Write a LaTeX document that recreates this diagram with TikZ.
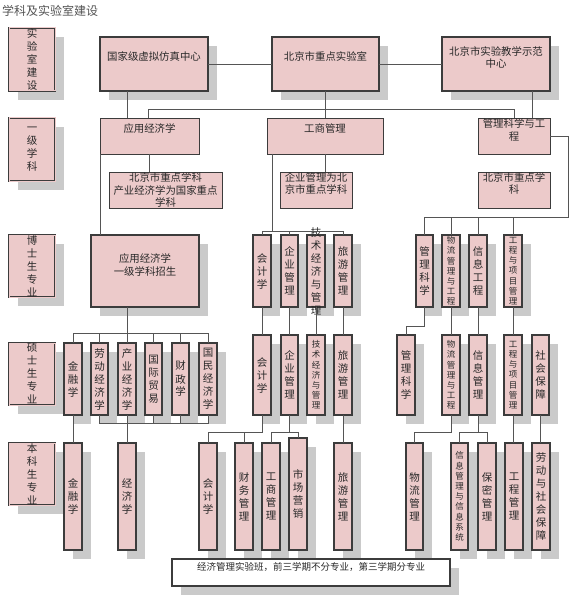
\documentclass[tikz,border=0pt]{standalone}
\usepackage{fontspec}
\setmainfont{Noto Sans CJK SC}
\usetikzlibrary{shadows,calc}
\definecolor{pinkfill}{RGB}{236,202,202}
\definecolor{shadowgray}{RGB}{202,202,202}
\definecolor{borderc}{RGB}{60,60,60}
\definecolor{linec}{RGB}{85,85,85}
\definecolor{textc}{RGB}{40,40,40}
\tikzset{
  sh/.style={drop shadow={shadow xshift=9pt, shadow yshift=-9pt, fill=shadowgray, opacity=1}},
  bigbox/.style={rectangle, fill=pinkfill, draw=borderc, line width=1.5pt, inner sep=0pt, outer sep=0pt, sh},
  labbox/.style={rectangle, fill=pinkfill, draw=borderc, line width=0.9pt, double=pinkfill, double distance=1pt, inner sep=0pt, outer sep=0pt, sh},
  lvlbox/.style={rectangle, fill=pinkfill, draw=borderc, line width=0.9pt, inner sep=0pt, outer sep=0pt},
  wbox/.style={rectangle, fill=white, draw=borderc, line width=1.8pt, inner sep=0pt, outer sep=0pt, sh},
  con/.style={draw=linec, line width=0.8pt},
  htxt/.style={font=\fontsize{10.4}{12.5}\selectfont, align=center, text=textc, inner sep=0pt},
  vtxt/.style={font=\fontsize{10.5}{13}\selectfont, align=center, text=textc, inner sep=0pt},
  vsm/.style={font=\fontsize{8.5}{10.2}\selectfont, align=center, text=textc, inner sep=0pt},
}
% style, name, x1, y1, x2, y2, text style, text
\newcommand\mybox[8]{%
  \node[#1, minimum width={#5-#3}, minimum height={#6-#4}] (#2) at ({(#3+#5)/2},{(#4+#6)/2}) {};
  \node[#7] (#2t) at (#2.center) {#8};}
\begin{document}
\begin{tikzpicture}[x=1pt,y=-1pt]
\useasboundingbox[fill=white] (0,0) rectangle (569,596);
\node[anchor=west, font=\fontsize{12}{14}\selectfont, text=textc!80!white, inner sep=0pt] (title) at (2,11) {学科及实验室建设};
% row labels
\mybox{labbox}{L1}{9}{28}{55}{91}{vtxt}{实\\验\\室\\建\\设}
\mybox{labbox}{L2}{9}{118}{55}{181}{vtxt}{一\\级\\学\\科}
\mybox{labbox}{L3}{9}{235}{55}{297}{vtxt}{博\\士\\生\\专\\业}
\mybox{labbox}{L4}{9}{343}{55}{405}{vtxt}{硕\\士\\生\\专\\业}
\mybox{labbox}{L5}{9}{443}{55}{505}{vtxt}{本\\科\\生\\专\\业}
% top row
\mybox{bigbox}{gj}{100}{37}{208}{91}{htxt,yshift=7pt}{国家级虚拟仿真中心}
\mybox{bigbox}{bjsy}{272}{37}{379}{91}{htxt,yshift=7pt}{北京市重点实验室}
\mybox{bigbox}{sf}{442}{37}{550}{91}{htxt,yshift=6.5pt}{北京市实验教学示范\\中心}
% first-level disciplines
\mybox{lvlbox}{yyjj}{100}{118}{199}{154}{htxt,yshift=7pt}{应用经济学}
\mybox{lvlbox}{gsgl}{267}{118}{383}{154}{htxt,yshift=7pt}{工商管理}
\mybox{lvlbox}{glkx}{478}{118}{550}{154}{htxt,yshift=6pt}{管理科学与工\\程}
\mybox{lvlbox}{s1}{109}{172}{222}{208}{htxt}{北京市重点学科\\产业经济学为国家重点\\学科}
\mybox{lvlbox}{s2}{280}{172}{352}{208}{htxt,yshift=6.5pt}{企业管理为北\\京市重点学科}
\mybox{lvlbox}{s3}{478}{172}{550}{208}{htxt,yshift=6.5pt}{北京市重点学\\科}
% PhD
\mybox{bigbox}{p1}{91}{235}{199}{307}{htxt,yshift=6pt}{应用经济学\\一级学科招生}
\mybox{bigbox}{pk}{253}{235}{271}{307}{vtxt}{会\\计\\学}
\mybox{bigbox}{pq}{281}{235}{298}{307}{vtxt}{企\\业\\管\\理}
\mybox{bigbox}{pj}{307}{235}{325}{307}{vtxt}{技\\术\\经\\济\\与\\管\\理}
\mybox{bigbox}{pl}{334}{235}{352}{307}{vtxt}{旅\\游\\管\\理}
\mybox{bigbox}{pm}{416}{235}{433}{307}{vtxt}{管\\理\\科\\学}
\mybox{bigbox}{pw}{442}{235}{460}{307}{vsm}{物\\流\\管\\理\\与\\工\\程}
\mybox{bigbox}{px}{469}{235}{487}{307}{vtxt}{信\\息\\工\\程}
\mybox{bigbox}{pg}{504}{235}{522}{307}{vsm}{工\\程\\与\\项\\目\\管\\理}
% Masters
\mybox{bigbox}{m1}{64}{343}{82}{415}{vtxt}{金\\融\\学}
\mybox{bigbox}{m2}{91}{343}{108}{415}{vtxt}{劳\\动\\经\\济\\学}
\mybox{bigbox}{m3}{118}{343}{136}{415}{vtxt}{产\\业\\经\\济\\学}
\mybox{bigbox}{m4}{145}{343}{162}{415}{vtxt}{国\\际\\贸\\易}
\mybox{bigbox}{m5}{172}{343}{189}{415}{vtxt}{财\\政\\学}
\mybox{bigbox}{m6}{199}{343}{217}{415}{vtxt}{国\\民\\经\\济\\学}
\mybox{bigbox}{mk}{253}{335}{271}{415}{vtxt}{会\\计\\学}
\mybox{bigbox}{mq}{281}{335}{298}{415}{vtxt}{企\\业\\管\\理}
\mybox{bigbox}{mj}{307}{335}{325}{415}{vsm}{技\\术\\经\\济\\与\\管\\理}
\mybox{bigbox}{ml}{334}{335}{352}{415}{vtxt}{旅\\游\\管\\理}
\mybox{bigbox}{mm}{397}{335}{415}{415}{vtxt}{管\\理\\科\\学}
\mybox{bigbox}{mw}{442}{335}{460}{415}{vsm}{物\\流\\管\\理\\与\\工\\程}
\mybox{bigbox}{mx}{469}{335}{487}{415}{vtxt}{信\\息\\管\\理}
\mybox{bigbox}{mg}{504}{335}{522}{415}{vsm}{工\\程\\与\\项\\目\\管\\理}
\mybox{bigbox}{ms}{532}{335}{549}{415}{vtxt}{社\\会\\保\\障}
% Undergraduate
\mybox{bigbox}{u1}{64}{443}{82}{550}{vtxt}{金\\融\\学}
\mybox{bigbox}{u2}{118}{443}{136}{550}{vtxt}{经\\济\\学}
\mybox{bigbox}{uk}{199}{443}{217}{550}{vtxt}{会\\计\\学}
\mybox{bigbox}{uc}{235}{443}{253}{550}{vtxt}{财\\务\\管\\理}
\mybox{bigbox}{ug}{262}{443}{280}{550}{vtxt}{工\\商\\管\\理}
\mybox{bigbox}{us}{289}{438}{307}{550}{vtxt}{市\\场\\营\\销}
\mybox{bigbox}{ul}{334}{443}{352}{550}{vtxt}{旅\\游\\管\\理}
\mybox{bigbox}{uw}{406}{443}{423}{550}{vtxt}{物\\流\\管\\理}
\mybox{bigbox}{ux}{451}{443}{468}{550}{vsm}{信\\息\\管\\理\\与\\信\\息\\系\\统}
\mybox{bigbox}{ub}{478}{443}{496}{550}{vtxt}{保\\密\\管\\理}
\mybox{bigbox}{ue}{505}{443}{523}{550}{vtxt}{工\\程\\管\\理}
\mybox{bigbox}{ud}{532}{443}{550}{550}{vtxt}{劳\\动\\与\\社\\会\\保\\障}
% bottom box
\mybox{wbox}{bb}{172}{559}{450}{586}{htxt,font=\fontsize{9.5}{11}\selectfont,yshift=5.5pt}{经济管理实验班，前三学期不分专业，第三学期分专业}
% ---------- connectors ----------
\draw[con] (gj) -- (bjsy);
\draw[con] (bjsy) -- (sf);
\coordinate (c3) at ($(gj.south west)+(27,0)$);
\draw[con] (c3) -- (c3 |- yyjj.north);
\draw[con] (bjsy.south) -- (bjsy.south |- gsgl.north);
\coordinate (c1) at ($(yyjj.north west)+(48,0)$);
\coordinate (hb) at ($(yyjj.north)+(0,-9)$);
\draw[con] (c1) -- (c1 |- hb) -- (glkx.north |- hb) -- (glkx.north);
\coordinate (c6) at ($(glkx.north east)+(-18,0)$);
\draw[con] (c6 |- sf.south) -- (c6);
\draw[con] (yyjj.south) -- (yyjj.south |- s1.north);
\draw[con] (gsgl.south) -- (gsgl.south |- s2.north);
\draw[con] (yyjj.south west) -- (yyjj.south west |- p1.north);
% business administration PhD
\coordinate (g2) at ($(gsgl.south west)+(5,0)$);
\coordinate (b1) at ($(pk.north)+(0,-4)$);
\draw[con] (g2) -- (g2 |- b1);
\draw[con] (pk.north) -- (b1) -- (pl.north |- b1) -- (pl.north);
\draw[con] (pq.north) -- (pq.north |- b1);
\draw[con] (pj.north) -- (pj.north |- b1);
% management science PhD
\coordinate (rr) at ($(glkx.east)+(18,0)$);
\coordinate (b2) at ($(pm.north)+(0,-18)$);
\draw[con] (glkx.east) -- (rr) -- (rr |- b2) -- (b2) -- (pm.north);
\draw[con] (pw.north) -- (pw.north |- b2);
\draw[con] (px.north) -- (px.north |- b2);
\draw[con] (pg.north) -- (pg.north |- b2);
% economics masters
\coordinate (b3) at ($(m3.north)+(0,-10)$);
\draw[con] (m3.north |- p1.south) -- (m3.north);
\draw[con] (m1.north) -- (m1.north |- b3) -- (m6.north |- b3) -- (m6.north);
\draw[con] (m2.north) -- (m2.north |- b3);
\draw[con] (m4.north) -- (m4.north |- b3);
\draw[con] (m5.north) -- (m5.north |- b3);
\coordinate (b4) at ($(m2.south)+(0,8)$);
\draw[con] (m2.south) -- (m2.south |- b4) -- (m6.south |- b4) -- (m6.south);
\draw[con] (m4.south) -- (m4.south |- b4);
\draw[con] (m5.south) -- (m5.south |- b4);
\draw[con] (m3.south) -- (u2.north);
\draw[con] (m1.south) -- (u1.north);
% PhD to masters
\draw[con] (pk.south) -- (mk.north);
\draw[con] (pq.south) -- (mq.north);
\draw[con] (pj.south) -- (mj.north);
\draw[con] (pl.south) -- (ml.north);
\draw[con] (pm.south) -- ++(0,19) -| (mm.north);
\draw[con] (pw.south) -- (mw.north);
\draw[con] (px.south) -- (mx.north);
\draw[con] (pg.south) -- (mg.north);
% masters to undergraduate
\coordinate (b5) at ($(uk.north)+(0,-11)$);
\draw[con] (mk.south) -- (mk.south |- b5) -- (uk.north |- b5) -- (uk.north);
\draw[con] (uc.north) -- (uc.north |- b5);
\draw[con] (mq.south) -- (mq.south |- b5);
\draw[con] (ug.north) -- (ug.north |- b5) -- (us.north |- b5) -- (us.north);
\draw[con] (ml.south) -- (ul.north);
\draw[con] (mw.south) -- (mw.south |- b5) -| (uw.north);
\draw[con] (mx.south) -- (mx.south |- b5);
\draw[con] (ux.north) -- (ux.north |- b5) -- (ub.north |- b5) -- (ub.north);
\draw[con] (mg.south) -- (mg.south |- ue.north);
\draw[con] (ms.south) -- (ms.south |- ud.north);
\end{tikzpicture}
\end{document}
